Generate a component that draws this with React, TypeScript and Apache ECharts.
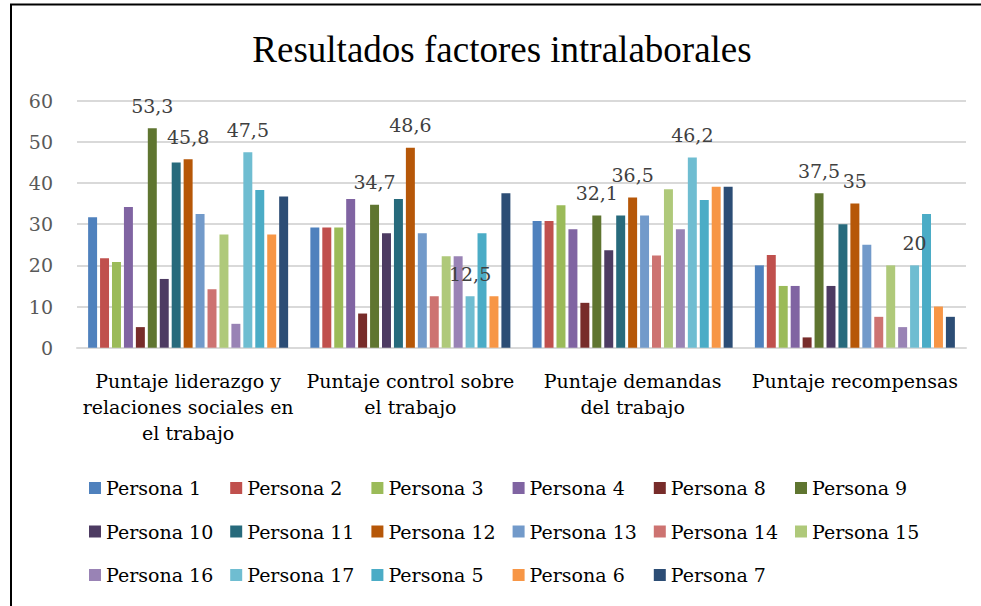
import React, { useEffect, useRef } from "react";
import * as echarts from "echarts";

const categories = [
  "Puntaje liderazgo y\nrelaciones sociales en\nel trabajo",
  "Puntaje control sobre\nel trabajo",
  "Puntaje demandas\ndel trabajo",
  "Puntaje recompensas",
];

const persona1 = [31.7, 29.2, 30.8, 20];
const persona2 = [21.7, 29.2, 30.8, 22.5];
const persona3 = [20.8, 29.2, 34.6, 15];
const persona4 = [34.2, 36.1, 28.8, 15];
const persona8 = [5, 8.3, 10.9, 2.5];
const persona9 = [53.3, 34.7, 32.1, 37.5];
const persona10 = [16.7, 27.8, 23.7, 15];
const persona11 = [45, 36.1, 32.1, 30];
const persona12 = [45.8, 48.6, 36.5, 35];
const persona13 = [32.5, 27.8, 32.1, 25];
const persona14 = [14.2, 12.5, 22.4, 7.5];
const persona15 = [27.5, 22.2, 38.5, 20];
const persona16 = [5.8, 22.2, 28.8, 5];
const persona17 = [47.5, 12.5, 46.2, 20];
const persona5 = [38.3, 27.8, 35.9, 32.5];
const persona6 = [27.5, 12.5, 39.1, 10];
const persona7 = [36.7, 37.5, 39.1, 7.5];

const seriesNames = [
  "Persona 1", "Persona 2", "Persona 3", "Persona 4", "Persona 8", "Persona 9",
  "Persona 10", "Persona 11", "Persona 12", "Persona 13", "Persona 14", "Persona 15",
  "Persona 16", "Persona 17", "Persona 5", "Persona 6", "Persona 7",
];
const seriesData = [
  persona1, persona2, persona3, persona4, persona8, persona9,
  persona10, persona11, persona12, persona13, persona14, persona15,
  persona16, persona17, persona5, persona6, persona7,
];
const seriesColors = [
  "#4F81BD", "#C0504D", "#9BBB59", "#8064A2", "#772C2A", "#5F7530",
  "#4D3B62", "#276A7C", "#B65708", "#729ACA", "#CD7371", "#AFC97A",
  "#9983B5", "#6FBDD1", "#4BACC6", "#F79646", "#2C4D75",
];
const labelledSeries = ["Persona 9", "Persona 12", "Persona 17"];

const yTicks = { min: 0, max: 60, interval: 10 };

export default function App() {
  const ref = useRef<HTMLDivElement>(null);
  useEffect(() => {
    if (!ref.current) return;
    const chart = echarts.init(ref.current, null, { renderer: "svg" });
    const font = "'DejaVu Serif', serif";
    const legends = [];
    for (let c = 0; c < 6; c++) {
      const items = [];
      for (let r = 0; r < 3; r++) {
        const idx = c + r * 6;
        if (idx < seriesNames.length) items.push(seriesNames[idx]);
      }
      legends.push({
        data: items,
        orient: "vertical",
        left: 89 + 141.2 * c,
        top: 478,
        padding: 0,
        itemGap: 23.5,
        itemWidth: 12,
        itemHeight: 12,
        icon: "rect",
        textStyle: { fontFamily: font, fontSize: 19, color: "#000", lineHeight: 20 },
      });
    }
    chart.setOption({
      animation: false,
      backgroundColor: "#fff",
      title: {
        text: "Resultados factores intralaborales",
        left: 497,
        top: 26,
        textAlign: "center",
        textStyle: {
          fontFamily: "'Liberation Serif', serif",
          fontSize: 37,
          fontWeight: "normal",
          color: "#000",
        },
      },
      graphic: [
        {
          type: "rect",
          shape: { x: 11, y: 4.5, width: 1200, height: 800 },
          style: { fill: "none", stroke: "#000", lineWidth: 2 },
          silent: true,
        },
      ],
      legend: legends,
      grid: { left: 77, right: 15, top: 100.7, bottom: 258.3, containLabel: false },
      xAxis: {
        type: "category",
        data: categories,
        axisLine: { show: true, lineStyle: { color: "#d9d9d9", width: 2 } },
        axisTick: { show: false },
        axisLabel: {
          fontFamily: font,
          fontSize: 19,
          color: "#000",
          lineHeight: 26,
          margin: 20,
          interval: 0,
          align: "center",
        },
      },
      yAxis: {
        type: "value",
        min: yTicks.min,
        max: yTicks.max,
        interval: yTicks.interval,
        axisLine: { show: false },
        axisTick: { show: false },
        splitLine: { lineStyle: { color: "#d9d9d9", width: 2 } },
        axisLabel: { fontFamily: font, fontSize: 19, color: "#595959", margin: 24 },
      },
      series: seriesNames.map((name, i) => ({
        name,
        type: "bar",
        data: seriesData[i],
        itemStyle: { color: seriesColors[i] },
        barGap: "33%",
        barCategoryGap: "10%",
        label: {
          show: labelledSeries.includes(name),
          position: "top",
          distance: 13,
          fontFamily: font,
          fontSize: 19,
          color: "#404040",
          formatter: (p: any) => String(p.value).replace(".", ","),
        },
      })),
    });
    return () => chart.dispose();
  }, []);
  return (
    <div
      ref={ref}
      style={{ position: "fixed", left: 0, top: 0, width: 981, height: 606, background: "#fff" }}
    />
  );
}
